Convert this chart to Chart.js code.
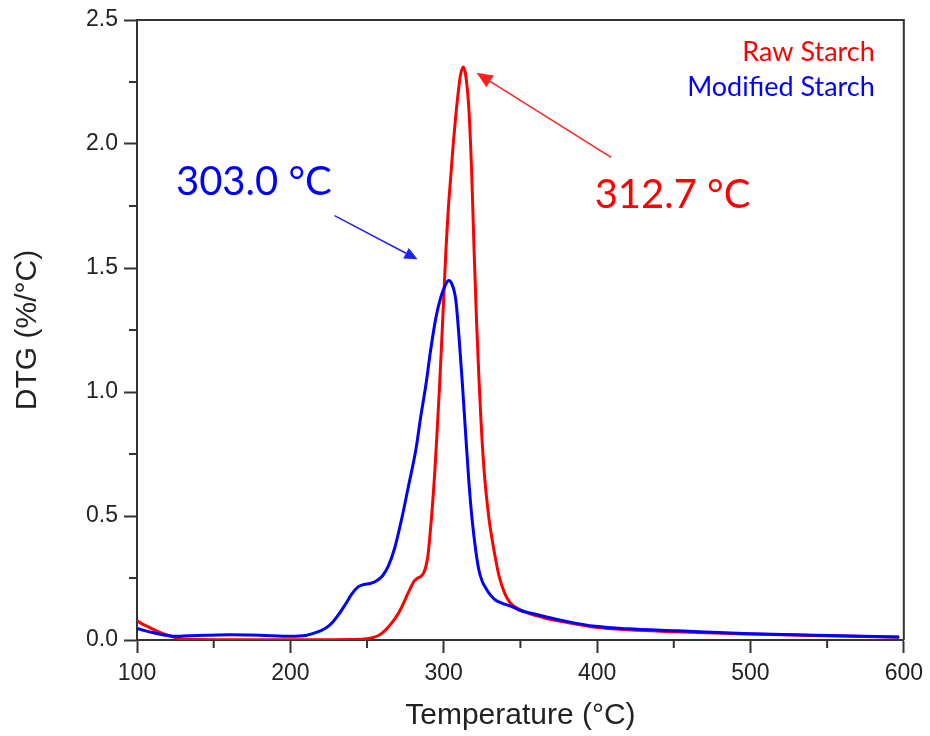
<!DOCTYPE html>
<html><head><meta charset="utf-8">
<script src="https://cdn.jsdelivr.net/npm/chart.js@4/dist/chart.umd.min.js"></script>
<style>html,body{margin:0;padding:0;background:#fff}#wrap{width:930px;height:736px}</style>
</head><body><div id="wrap"><canvas id="c" width="930" height="736"></canvas></div>
<script>
// ---- data ----
const seriesNames = ['Raw Starch', 'Modified Starch'];
const peakLabels = ['312.7 °C', '303.0 °C'];
const xLabelTicks = [100, 200, 300, 400, 500, 600];
const yLabelTicks = [0.0, 0.5, 1.0, 1.5, 2.0, 2.5];

const rawTemp = [100,105,110,115,120,125,130,140,170,210,240,250,254,258,262,266,269,272,275,278,280.5,283,285,287,288.5,289.8,291,292.5,294,295.5,297,298.5,300,301.5,303,304.6,306.2,307.8,309.5,311,312.8,314.5,316.5,318.3,319.8,321.5,323,324.5,326.5,329.5,331.7,334,336,340,343.6,350,355.5,365,377,390,399,420,450,500,550,597];
const rawDTG  = [0.077,0.060,0.045,0.031,0.019,0.010,0.004,0.002,0.001,0.001,0.002,0.005,0.010,0.020,0.040,0.068,0.093,0.125,0.165,0.205,0.235,0.250,0.256,0.272,0.30,0.345,0.42,0.53,0.66,0.82,0.99,1.18,1.38,1.58,1.74,1.87,2.00,2.11,2.21,2.28,2.31,2.27,2.13,1.87,1.57,1.27,1.05,0.86,0.67,0.49,0.40,0.32,0.26,0.185,0.148,0.122,0.107,0.09,0.074,0.06,0.051,0.041,0.033,0.024,0.017,0.011];

const modTemp = [100,105,110,115,120,125,130,145,160,180,200,210,215,220,224,228,232,236,240,244,248,252,256,260,264,268,273,277,281.9,285,288.4,291.5,294.9,298,301,303.2,305,307.9,310,312.2,314.3,316.5,318.6,320.9,323,325.2,327.4,330,333.9,338.2,344.7,349,357,366.4,380,399,420,453,500,550,597];
const modDTG  = [0.047,0.038,0.030,0.023,0.018,0.015,0.016,0.019,0.021,0.019,0.015,0.018,0.027,0.038,0.052,0.075,0.107,0.145,0.185,0.213,0.224,0.228,0.238,0.258,0.30,0.37,0.50,0.62,0.77,0.90,1.03,1.17,1.30,1.38,1.43,1.45,1.44,1.37,1.22,1.03,0.83,0.63,0.48,0.36,0.28,0.235,0.21,0.185,0.16,0.148,0.134,0.121,0.108,0.094,0.075,0.055,0.045,0.037,0.025,0.018,0.012];

// ---- annotation placement (data units) ----
const annot = {
  legendRight: 581.1, legendY: [2.335, 2.194],
  peakText: [{x: 398.4, y: 1.742}, {x: 125.4, y: 1.794}],
  arrows: [
    {from: {x: 409.2, y: 1.946}, to: {x: 321.4, y: 2.287}},
    {from: {x: 228.8, y: 1.711}, to: {x: 282.9, y: 1.535}}
  ]
};
const colors = ['#ff0000', '#0000ff'];
const axisColor = '#333';
const annotFont = 'Lato, "Open Sans", sans-serif';

const toXY = (xs, ys) => xs.map((x, i) => ({x, y: ys[i]}));
const isMajorX = v => Math.abs(v % 100) < 1e-6;
const isMajorY = v => Math.abs((v * 2) - Math.round(v * 2)) < 1e-6;

function drawArrow(ctx, x1, y1, x2, y2, color, headLen, headW) {
  const ang = Math.atan2(y2 - y1, x2 - x1);
  const bx = x2 - headLen * Math.cos(ang), by = y2 - headLen * Math.sin(ang);
  ctx.save();
  ctx.strokeStyle = color; ctx.fillStyle = color; ctx.lineWidth = 1.5;
  ctx.beginPath(); ctx.moveTo(x1, y1); ctx.lineTo(bx, by); ctx.stroke();
  ctx.beginPath();
  ctx.moveTo(x2, y2);
  ctx.lineTo(bx + headW * Math.sin(ang), by - headW * Math.cos(ang));
  ctx.lineTo(bx - headW * Math.sin(ang), by + headW * Math.cos(ang));
  ctx.closePath(); ctx.fill();
  ctx.restore();
}

const extras = {
  id: 'extras',
  afterDraw(chart) {
    const {ctx, chartArea: a, scales: {x, y}} = chart;
    ctx.save();
    ctx.strokeStyle = axisColor; ctx.lineWidth = 2;
    ctx.beginPath();
    ctx.moveTo(a.left, a.top); ctx.lineTo(a.right, a.top); ctx.lineTo(a.right, a.bottom);
    ctx.stroke();
    ctx.beginPath();
    for (let v = 150; v < 600; v += 100) {
      const px = x.getPixelForValue(v);
      ctx.moveTo(px, a.bottom); ctx.lineTo(px, a.bottom + 8);
    }
    for (let v = 0.25; v < 2.5; v += 0.5) {
      const py = y.getPixelForValue(v);
      ctx.moveTo(a.left, py); ctx.lineTo(a.left - 8, py);
    }
    ctx.stroke();
    ctx.font = '27px ' + annotFont;
    ctx.textAlign = 'right'; ctx.textBaseline = 'alphabetic';
    seriesNames.forEach((n, i) => {
      ctx.fillStyle = colors[i];
      ctx.fillText(n, x.getPixelForValue(annot.legendRight), y.getPixelForValue(annot.legendY[i]));
    });
    ctx.font = '40px ' + annotFont;
    ctx.textAlign = 'left';
    peakLabels.forEach((t, i) => {
      ctx.fillStyle = colors[i];
      ctx.fillText(t, x.getPixelForValue(annot.peakText[i].x), y.getPixelForValue(annot.peakText[i].y));
    });
    const arrowCols = ['#ff2020', '#2020ff'];
    const heads = [[16, 7], [13, 6]];
    annot.arrows.forEach((ar, i) => {
      drawArrow(ctx,
        x.getPixelForValue(ar.from.x), y.getPixelForValue(ar.from.y),
        x.getPixelForValue(ar.to.x), y.getPixelForValue(ar.to.y),
        arrowCols[i], heads[i][0], heads[i][1]);
    });
    ctx.restore();
  }
};

const tickFont = {family: '"Liberation Sans", Arial, sans-serif', size: 23};
const titleFont = {family: '"Liberation Sans", Arial, sans-serif', size: 30};

new Chart(document.getElementById('c'), {
  type: 'line',
  data: {
    datasets: [
      {label: seriesNames[0], data: toXY(rawTemp, rawDTG), borderColor: colors[0], borderWidth: 3,
       pointRadius: 0, cubicInterpolationMode: 'monotone', fill: false, order: 1},
      {label: seriesNames[1], data: toXY(modTemp, modDTG), borderColor: colors[1], borderWidth: 3,
       pointRadius: 0, cubicInterpolationMode: 'monotone', fill: false, order: 0}
    ]
  },
  options: {
    responsive: false, animation: false, devicePixelRatio: 1,
    layout: {padding: {left: 0, top: 20, right: 22, bottom: 0}},
    plugins: {legend: {display: false}, tooltip: {enabled: false}},
    scales: {
      x: {
        type: 'linear', min: 100, max: 600,
        afterFit: s => { s.height = 96; },
        border: {display: true, color: axisColor, width: 2},
        grid: {drawOnChartArea: false, drawTicks: true, tickLength: 13, tickWidth: 2,
               tickColor: c => isMajorX(c.tick.value) ? axisColor : 'rgba(0,0,0,0)'},
        ticks: {stepSize: 100, autoSkip: false, maxRotation: 0, padding: 7, color: '#222', font: tickFont,
                callback: v => xLabelTicks.includes(v) ? String(v) : ''},
        title: {display: true, text: 'Temperature (°C)', color: '#222', font: titleFont, padding: {top: 0, bottom: 2}}
      },
      y: {
        type: 'linear', min: 0, max: 2.5,
        afterFit: s => { s.width = 137; },
        border: {display: true, color: axisColor, width: 2},
        grid: {drawOnChartArea: false, drawTicks: true, tickLength: 13, tickWidth: 2,
               tickColor: c => isMajorY(c.tick.value) ? axisColor : 'rgba(0,0,0,0)'},
        ticks: {stepSize: 0.5, autoSkip: false, padding: 6, color: '#222', font: tickFont,
                callback: v => yLabelTicks.some(t => Math.abs(t - v) < 1e-6) ? v.toFixed(1) : ''},
        title: {display: true, text: 'DTG (%/°C)', color: '#222', font: titleFont, padding: {top: 10, bottom: 0}}
      }
    }
  },
  plugins: [extras]
});
</script></body></html>
